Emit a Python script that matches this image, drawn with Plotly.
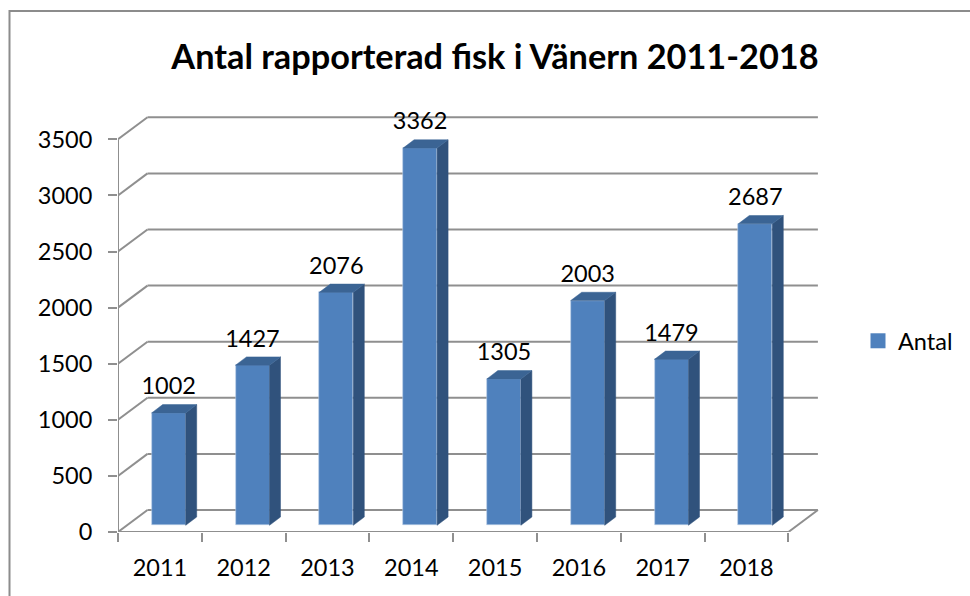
import plotly.graph_objects as go

years = ["2011", "2012", "2013", "2014", "2015", "2016", "2017", "2018"]
antal = [1002, 1427, 2076, 3362, 1305, 2003, 1479, 2687]
y_ticks = [0, 500, 1000, 1500, 2000, 2500, 3000, 3500]

W, H = 970, 596
L, R, T, B = 118, 965, 112, 532          # plot box in page pixels (legend sits inside it)
PX_PER_CAT = 83.8
PX_PER_UNIT = 0.1122

def cat(px):
    return px / PX_PER_CAT

def val(px):
    return px / PX_PER_UNIT

DEPTH_X, DEPTH_Y = cat(29.5), val(22)    # depth of the chart floor
BAR_LEFT, BAR_W = cat(33.7), cat(34)     # bar front face inside a category
BAR_BASE = val(6.7)
BAR_DX, BAR_DY = cat(11), val(8.3)       # depth of a bar

FRONT = "#4f81bd"
SIDE = "#30527c"
TOP = "#3b6494"
GRID = "#8f8f8f"
FONT = "Lato, Carlito, Calibri, sans-serif"

n = len(years)
centers = [i + BAR_LEFT + BAR_W / 2 for i in range(n)]

fig = go.Figure()

fig.add_trace(go.Bar(
    x=centers, y=antal, base=BAR_BASE, width=BAR_W, name="Antal",
    marker=dict(color=FRONT, line=dict(color="#b9cde5", width=0.6)),
    showlegend=False, legendgroup="antal", hoverinfo="skip",
))

for c, v in zip(centers, antal):
    x0, x1 = c - BAR_W / 2, c + BAR_W / 2
    y0, y1 = BAR_BASE, BAR_BASE + v
    fig.add_trace(go.Scatter(
        x=[x1, x1 + BAR_DX, x1 + BAR_DX, x1, x1],
        y=[y0, y0 + BAR_DY, y1 + BAR_DY, y1, y0],
        mode="lines", fill="toself", fillcolor=SIDE,
        line=dict(color=SIDE, width=0.5), showlegend=False, hoverinfo="skip",
    ))
    fig.add_trace(go.Scatter(
        x=[x0, x1, x1 + BAR_DX, x0 + BAR_DX, x0],
        y=[y1, y1, y1 + BAR_DY, y1 + BAR_DY, y1],
        mode="lines", fill="toself", fillcolor=TOP,
        line=dict(color=TOP, width=0.5), showlegend=False, hoverinfo="skip",
    ))

fig.add_trace(go.Scatter(
    x=centers, y=[v + BAR_BASE + val(24.5) for v in antal],
    text=[str(v) for v in antal], mode="text", textposition="middle center",
    textfont=dict(family=FONT, size=23.5, color="#000000"),
    showlegend=False, hoverinfo="skip", cliponaxis=False,
))

fig.add_trace(go.Scatter(
    x=[None], y=[None], mode="markers", name="Antal", legendgroup="antal",
    marker=dict(symbol="square", size=15, color=FRONT), hoverinfo="skip",
))

shapes = []
def seg(x0, y0, x1, y1):
    shapes.append(dict(type="line", xref="x", yref="y", x0=x0, y0=y0, x1=x1, y1=y1,
                       line=dict(color=GRID, width=2), layer="below"))

for v in y_ticks:
    seg(0, v, DEPTH_X, v + DEPTH_Y)
    seg(DEPTH_X, v + DEPTH_Y, n + DEPTH_X, v + DEPTH_Y)
seg(0, 0, 0, y_ticks[-1])
seg(0, 0, n, 0)
seg(n, 0, n + DEPTH_X, DEPTH_Y)

def px_x(p):
    return (p - L) / (R - L)

def px_y(p):
    return (B - p) / (B - T)

shapes.append(dict(type="rect", xref="paper", yref="paper",
                   x0=px_x(9.5), x1=px_x(980), y0=px_y(11), y1=px_y(610),
                   line=dict(color="#8c8c8c", width=2), fillcolor="rgba(0,0,0,0)", layer="below"))

fig.update_layout(
    width=W, height=H, autosize=False,
    margin=dict(l=L, r=W - R, t=T, b=H - B, pad=0),
    paper_bgcolor="#ffffff", plot_bgcolor="#ffffff",
    font=dict(family=FONT, size=23.5, color="#000000"),
    title=dict(text="<b>Antal rapporterad fisk i Vänern 2011-2018</b>",
               x=495 / W, xanchor="center", y=1 - 57 / H, yanchor="middle",
               font=dict(family=FONT, size=34.3, color="#000000")),
    shapes=shapes,
    bargap=0,
    legend=dict(x=px_x(858), xanchor="left", y=px_y(341), yanchor="middle",
                bgcolor="rgba(0,0,0,0)", font=dict(family=FONT, size=23.5),
                itemsizing="trace"),
    xaxis=dict(range=[0, (R - L) / PX_PER_CAT], tickmode="array",
               tickvals=[i + 0.5 for i in range(n)], ticktext=years,
               ticks="", showgrid=False, zeroline=False, showline=False,
               ticklabelstandoff=19,
               tickfont=dict(family=FONT, size=23.5),
               minor=dict(tickmode="array", tickvals=list(range(n + 1)), ticks="outside", ticklen=9,
                          tickwidth=2, tickcolor=GRID, showgrid=False)),
    yaxis=dict(range=[0, (B - T) / PX_PER_UNIT], tickmode="array",
               tickvals=y_ticks, ticks="outside", ticklen=9, tickwidth=2,
               tickcolor=GRID, showgrid=False, zeroline=False, showline=False,
               ticklabelstandoff=11,
               tickfont=dict(family=FONT, size=23.5)),
)

fig.write_html("out.html", config={"displayModeBar": False},
               post_script="document.body.style.margin='0';")
